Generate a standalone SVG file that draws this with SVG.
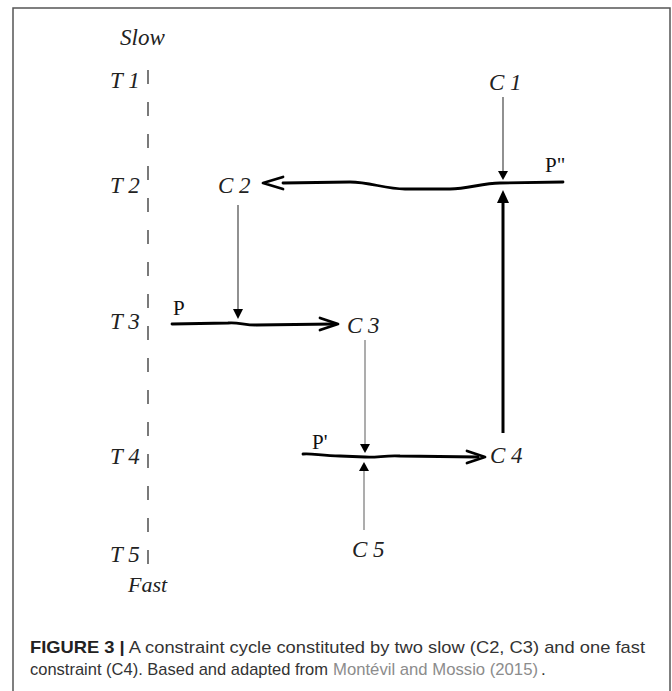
<svg xmlns="http://www.w3.org/2000/svg" width="672" height="691" viewBox="0 0 672 691">
<style>
.lbl{font-family:"Liberation Serif","Times New Roman",serif;font-style:italic;font-size:23px;fill:#222}
.pl{font-family:"Liberation Serif","Times New Roman",serif;font-size:21px;fill:#111}
.cap{font-family:"Liberation Sans",Arial,sans-serif;font-size:17px;fill:#333}
.link{fill:#8c8c8c}
.thick{fill:none;stroke:#000;stroke-width:2.8;stroke-linecap:round;stroke-linejoin:round}
.thin{fill:none;stroke:#555;stroke-width:1.3}
.thin2{fill:none;stroke:#999;stroke-width:1.6}
.head{fill:#000}
</style>
<rect x="0" y="0" width="672" height="691" fill="#fff"/>
<path d="M13 691 L13 8 L670 8 L670 691" fill="none" stroke="#555" stroke-width="1.5"/>

<g id="timeline">
<line x1="148" y1="70" x2="148" y2="568" stroke="#333" stroke-width="1.3" stroke-dasharray="14 18"/>
<text class="lbl" x="120" y="45">Slow</text>
<text class="lbl" x="110" y="88">T 1</text>
<text class="lbl" x="110" y="193">T 2</text>
<text class="lbl" x="110" y="329">T 3</text>
<text class="lbl" x="110" y="464">T 4</text>
<text class="lbl" x="110" y="562">T 5</text>
<text class="lbl" x="128" y="592" style="font-size:22px">Fast</text>
</g>

<g id="C1"><text class="lbl" x="489" y="90">C 1</text></g>
<g id="C2"><text class="lbl" x="218" y="193">C 2</text></g>
<g id="C3"><text class="lbl" x="347" y="333">C 3</text></g>
<g id="C4"><text class="lbl" x="490" y="463">C 4</text></g>
<g id="C5"><text class="lbl" x="352" y="557">C 5</text></g>
<g id="P2"><text class="pl" x="545" y="172">P"</text></g>
<g id="P"><text class="pl" x="173" y="315">P</text></g>
<g id="P1"><text class="pl" x="312" y="449">P'</text></g>

<g id="connectors">
<path class="thick" d="M283 183 L350 182 C370 182 385 189 405 189 L450 189 C468 189 482 183 500 183 L563 182"/>
<path class="thick" d="M283 177 L263 183 L283 189"/>
<path class="thick" d="M172 324 L228 323 C238 322 244 325 256 325 L334 324"/>
<path class="thick" d="M320 318 L338 324 L320 330"/>
<path class="thick" d="M303 454 C312 453 322 456 340 456 L365 457 C376 458 386 455 400 456 L478 457"/>
<path class="thick" d="M467 451 L485 457 L467 463"/>
<line x1="503" y1="433" x2="503" y2="200" stroke="#000" stroke-width="3"/>
<polygon class="head" points="503,190 497,203 509,203"/>
<line class="thin" x1="503" y1="97" x2="503" y2="172"/>
<polygon class="head" points="503,180 498,171 508,171"/>
<line class="thin" x1="238" y1="205" x2="238" y2="310"/>
<polygon class="head" points="238,319 233,309 243,309"/>
<line class="thin2" x1="365" y1="340" x2="365" y2="445"/>
<polygon class="head" points="365,453 360,444 370,444"/>
<line class="thin2" x1="364" y1="530" x2="364" y2="471"/>
<polygon class="head" points="364,462 359,471 369,471"/>
</g>

<g id="caption">
<text class="cap" x="30" y="653" textLength="615" lengthAdjust="spacingAndGlyphs"><tspan font-weight="bold" fill="#222">FIGURE 3 |</tspan> A constraint cycle constituted by two slow (C2, C3) and one fast</text>
<text class="cap" x="30" y="675" textLength="298" lengthAdjust="spacingAndGlyphs">constraint (C4). Based and adapted from</text>
<text class="cap link" x="333" y="675" textLength="205" lengthAdjust="spacingAndGlyphs">Montévil and Mossio (2015)</text>
<text class="cap" x="541" y="675">.</text>
</g>
</svg>
